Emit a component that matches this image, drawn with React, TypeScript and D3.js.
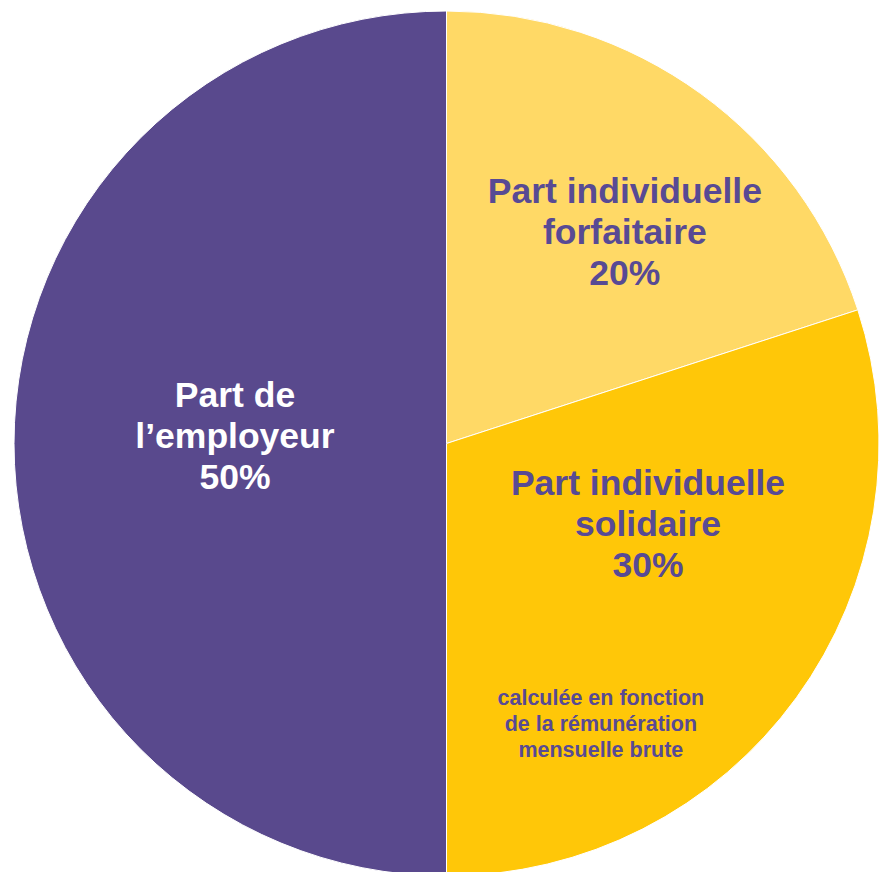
import React from "react";
import * as d3 from "d3";

const categories = ["Part individuelle forfaitaire", "Part individuelle solidaire", "Part de l’employeur"];
const values = [20, 30, 50];
const colors = ["#FFD966", "#FFC708", "#59498D"];
const labelColors = ["#584A94", "#584A94", "#FFFFFF"];
const labelLines = [
  ["Part individuelle", "forfaitaire", "20%"],
  ["Part individuelle", "solidaire", "30%"],
  ["Part de", "l’employeur", "50%"],
];
const noteLines = ["calculée en fonction", "de la rémunération", "mensuelle brute"];

const W = 880;
const H = 872;
const cx = 446.5;
const cy = 443.5;
const R = 432.5;

// polar placement of labels (degrees from 12 o'clock, distance from centre)
const labelAngle = [40.0, 111.5, 272.3];
const labelDist = [277.5, 216.6, 211.7];
const noteAngle = 151.1;
const noteDist = 319.4;

export default function App() {
  const pie = d3.pie<number>().sort(null).startAngle(0).endAngle(2 * Math.PI);
  const arcs = pie(values);
  const arc = d3.arc<d3.PieArcDatum<number>>().innerRadius(0).outerRadius(R);
  const polar = (deg: number, d: number) => {
    const a = (deg * Math.PI) / 180;
    return [d * Math.sin(a), -d * Math.cos(a)];
  };
  const fs = 35.5;
  const lh = 41;
  const [nx, ny] = polar(noteAngle, noteDist);
  return (
    <div style={{ position: "absolute", left: 0, top: 0 }}>
      <svg width={W} height={H} style={{ display: "block", background: "#fff" }}>
        <g transform={`translate(${cx},${cy})`}>
          {arcs.map((a, i) => (
            <path key={categories[i]} d={arc(a) || ""} fill={colors[i]} stroke="#fff" strokeWidth={1} />
          ))}
          {arcs.map((a, i) => {
            const [x, y] = polar(labelAngle[i], labelDist[i]);
            const lines = labelLines[i];
            return (
              <text
                key={"l" + i}
                x={x}
                y={y}
                textAnchor="middle"
                fontFamily="'Liberation Sans', Arial, sans-serif"
                fontWeight="bold"
                fontSize={fs}
                fill={labelColors[i]}
              >
                {lines.map((t, j) => (
                  <tspan key={j} x={x} y={y + (j - (lines.length - 1) / 2) * lh + fs * 0.36}>
                    {t}
                  </tspan>
                ))}
              </text>
            );
          })}
          <text
            textAnchor="middle"
            fontFamily="'Liberation Sans', Arial, sans-serif"
            fontWeight="bold"
            fontSize={21.5}
            fill="#584A94"
          >
            {noteLines.map((t, j) => (
              <tspan key={j} x={nx} y={ny + (j - 1) * 26 + 7.5}>
                {t}
              </tspan>
            ))}
          </text>
        </g>
      </svg>
    </div>
  );
}
